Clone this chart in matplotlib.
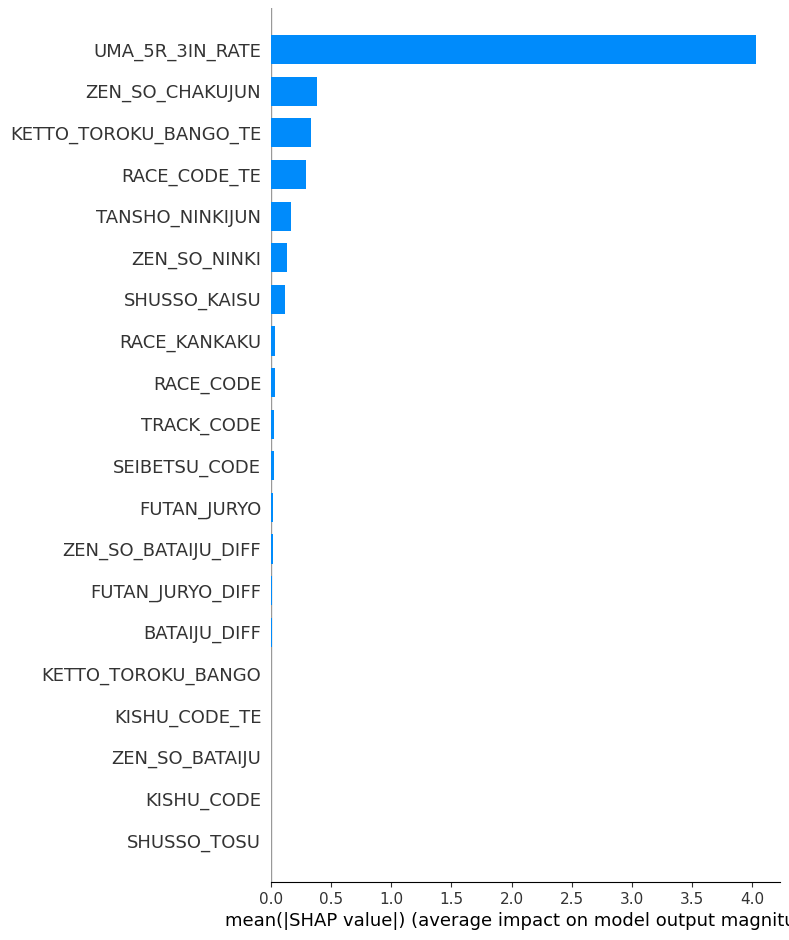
import matplotlib
matplotlib.use("Agg")
import matplotlib.pyplot as plt
import numpy as np

features = [
    "UMA_5R_3IN_RATE", "ZEN_SO_CHAKUJUN", "KETTO_TOROKU_BANGO_TE", "RACE_CODE_TE",
    "TANSHO_NINKIJUN", "ZEN_SO_NINKI", "SHUSSO_KAISU", "RACE_KANKAKU", "RACE_CODE",
    "TRACK_CODE", "SEIBETSU_CODE", "FUTAN_JURYO", "ZEN_SO_BATAIJU_DIFF",
    "FUTAN_JURYO_DIFF", "BATAIJU_DIFF", "KETTO_TOROKU_BANGO", "KISHU_CODE_TE",
    "ZEN_SO_BATAIJU", "KISHU_CODE", "SHUSSO_TOSU",
]
values = [
    4.03, 0.38, 0.33, 0.29, 0.17, 0.13, 0.12, 0.03, 0.03, 0.022,
    0.022, 0.014, 0.014, 0.005, 0.005, 0.004, 0.004, 0.001, 0.0005, 0.0003,
]
xticks = [0.0, 0.5, 1.0, 1.5, 2.0, 2.5, 3.0, 3.5, 4.0]
xlabel = "mean(|SHAP value|) (average impact on model output magnitude)"

axis_color = "#333333"
fig = plt.figure(figsize=(7.89, 9.40), dpi=100)
ax = fig.add_axes([271/789, 1-882/940, (780-271)/789, (882-8)/940])

n = len(features)
y_pos = np.arange(n)[::-1]
ax.barh(y_pos, values, 0.7, align="center", color="#008bfb")
ax.axvline(0, color="#999999", zorder=-1, lw=1)
ax.set_yticks(np.arange(n))
ax.set_yticklabels(features[::-1], fontsize=13)
ax.set_xticks(xticks)
ax.set_xticklabels([f"{t:.1f}" for t in xticks])
ax.xaxis.set_ticks_position("bottom")
ax.yaxis.set_ticks_position("none")
for s in ["right", "top", "left"]:
    ax.spines[s].set_visible(False)
ax.tick_params(color=axis_color, labelcolor=axis_color)
ax.tick_params("x", labelsize=11)
ax.set_ylim(-1, n)
ax.set_xlim(0, 4.23)
ax.set_xlabel(xlabel, fontsize=13, color="black")

fig.savefig("out.png", dpi=100)
